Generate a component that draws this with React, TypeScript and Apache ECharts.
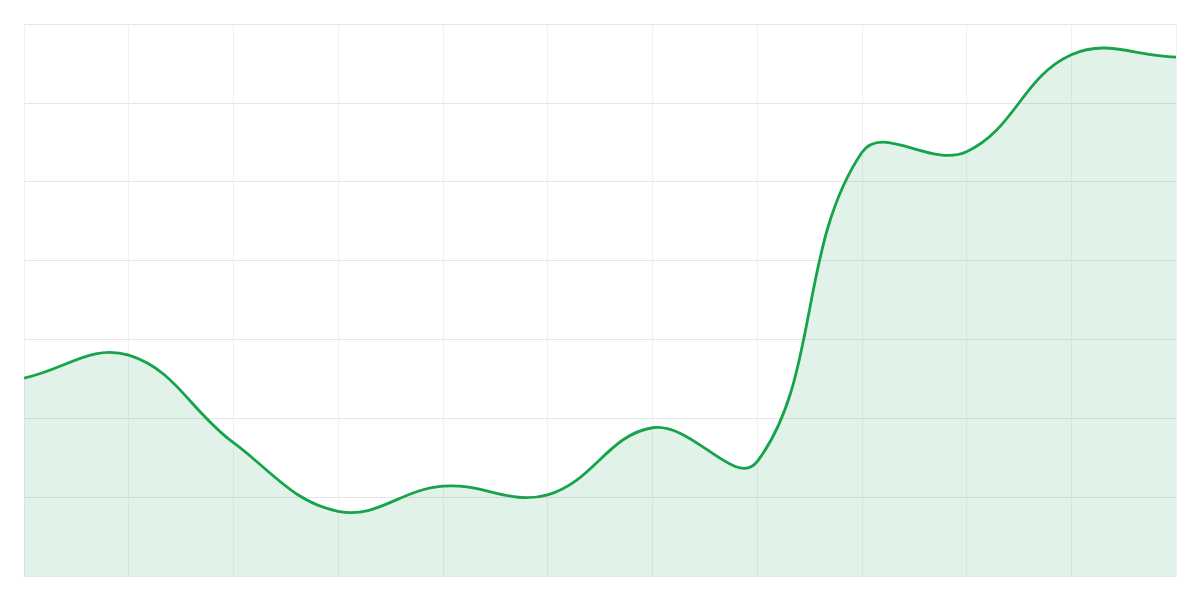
import { useEffect, useRef } from 'react';
import * as echarts from 'echarts';

const categories = ['Jan', 'Feb', 'Mar', 'Apr', 'May', 'Jun', 'Jul', 'Aug', 'Sep', 'Oct', 'Nov', 'Dec'];
const values = [25.1, 28.0, 16.9, 8.2, 11.4, 10.3, 18.8, 14.5, 53.7, 53.8, 66.1, 65.8];
const yTicks = [0, 10, 20, 30, 40, 50, 60, 70];

const LINE = '#16a34a';
const TENSION = 0.4;

type Pt = { x: number; y: number };

// tension spline with distance-weighted control points
function controlPoints(prev: Pt, cur: Pt, next: Pt, t: number) {
  const d01 = Math.hypot(cur.x - prev.x, cur.y - prev.y);
  const d12 = Math.hypot(next.x - cur.x, next.y - cur.y);
  let s01 = d01 / (d01 + d12);
  let s12 = d12 / (d01 + d12);
  if (isNaN(s01)) s01 = 0;
  if (isNaN(s12)) s12 = 0;
  const fa = t * s01;
  const fb = t * s12;
  return {
    before: { x: cur.x - fa * (next.x - prev.x), y: cur.y - fa * (next.y - prev.y) },
    after: { x: cur.x + fb * (next.x - prev.x), y: cur.y + fb * (next.y - prev.y) },
  };
}

function buildPath(pts: Pt[], top: number, bottom: number) {
  const cps = pts.map((p, i) => {
    const prev = i === 0 ? p : pts[i - 1];
    const next = i === pts.length - 1 ? p : pts[i + 1];
    const c = controlPoints(prev, p, next, TENSION);
    const clamp = (v: number) => Math.min(bottom, Math.max(top, v));
    c.before.y = clamp(c.before.y);
    c.after.y = clamp(c.after.y);
    return c;
  });
  let d = `M${pts[0].x},${pts[0].y}`;
  for (let i = 1; i < pts.length; i++) {
    const a = cps[i - 1].after;
    const b = cps[i].before;
    d += ` C${a.x},${a.y} ${b.x},${b.y} ${pts[i].x},${pts[i].y}`;
  }
  return d;
}

export default function App() {
  const chartRef = useRef<HTMLDivElement>(null);

  useEffect(() => {
    if (!chartRef.current) return;
    const chart = echarts.init(chartRef.current, undefined, { renderer: 'svg' });

    const option: echarts.EChartsOption = {
      animation: false,
      backgroundColor: '#ffffff',
      grid: {
        left: 24,
        right: 24,
        top: 24,
        bottom: 24,
        containLabel: false,
      },
      xAxis: {
        type: 'category',
        data: categories,
        boundaryGap: false,
        axisLine: { show: true, lineStyle: { color: '#e5e7eb' } },
        axisTick: { show: false },
        axisLabel: { show: false },
        splitLine: { show: true, lineStyle: { color: '#f0f0f0', width: 1 } },
      },
      yAxis: {
        type: 'value',
        min: yTicks[0],
        max: yTicks[yTicks.length - 1],
        interval: 10,
        axisLine: { show: false },
        axisTick: { show: false },
        axisLabel: { show: false },
        splitLine: { show: true, lineStyle: { color: '#e5e5e5', width: 1 } },
      },
      series: [
        {
          type: 'custom',
          data: values.map((v, i) => [i, v]),
          encode: { x: 0, y: 1 },
          clip: true,
          renderItem: (params: any, api: any) => {
            if (params.dataIndex !== 0) return null;
            const pts: Pt[] = values.map((v, i) => {
              const c = api.coord([i, v]);
              return { x: c[0], y: c[1] };
            });
            const cs = params.coordSys;
            const top = cs.y;
            const bottom = cs.y + cs.height;
            const line = buildPath(pts, top, bottom);
            const last = pts[pts.length - 1];
            const area = `${line} L${last.x},${bottom} L${pts[0].x},${bottom} Z`;
            return {
              type: 'group',
              children: [
                {
                  type: 'path',
                  shape: { pathData: area },
                  style: { fill: 'rgba(22, 163, 74, 0.13)', stroke: 'none' },
                },
                {
                  type: 'path',
                  shape: { pathData: line },
                  style: { fill: 'none', stroke: LINE, lineWidth: 2.8, lineJoin: 'round' },
                },
              ],
            };
          },
        },
      ],
    };

    chart.setOption(option);

    return () => {
      chart.dispose();
    };
  }, []);

  return (
    <div
      ref={chartRef}
      style={{ position: 'absolute', left: 0, top: 0, width: 1200, height: 600 }}
    />
  );
}
